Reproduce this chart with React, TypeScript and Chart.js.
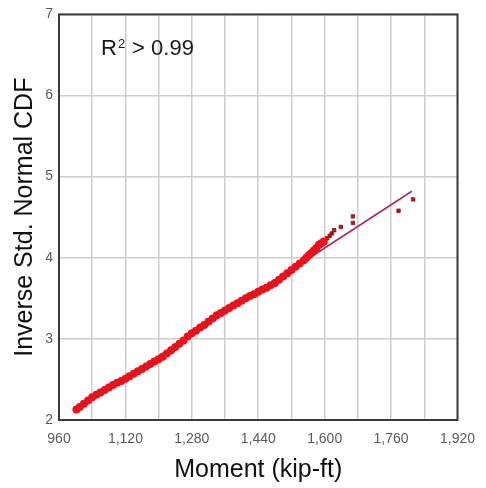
import React, { useEffect, useRef } from "react";
import { Chart, registerables } from "chart.js";

Chart.register(...registerables);

// Dense sample (moment in kip-ft, inverse std. normal CDF)
const momentX = [
  1002, 1010, 1020, 1030, 1040, 1050, 1060, 1070, 1080, 1090,
  1100, 1110, 1120, 1130, 1140, 1150, 1160, 1170, 1180, 1190,
  1200, 1210, 1220, 1230, 1240, 1250, 1260, 1270, 1280, 1290,
  1300, 1310, 1320, 1330, 1340, 1350, 1360, 1370, 1380, 1390,
  1400, 1410, 1420, 1430, 1440, 1450, 1460, 1470, 1480, 1490,
  1500, 1510, 1520, 1530, 1540, 1550, 1556, 1562, 1568, 1574,
  1580, 1586, 1592, 1598,
];
const cdfY = [
  2.13, 2.16, 2.2, 2.24, 2.28, 2.31, 2.34, 2.37, 2.4, 2.43,
  2.46, 2.48, 2.51, 2.54, 2.57, 2.6, 2.63, 2.66, 2.69, 2.72,
  2.75, 2.78, 2.82, 2.86, 2.9, 2.94, 2.98, 3.03, 3.07, 3.1,
  3.14, 3.17, 3.21, 3.25, 3.29, 3.32, 3.35, 3.38, 3.41, 3.44,
  3.47, 3.5, 3.53, 3.55, 3.58, 3.61, 3.63, 3.66, 3.69, 3.73,
  3.77, 3.81, 3.85, 3.89, 3.93, 3.97, 4.0, 4.03, 4.06, 4.09,
  4.12, 4.16, 4.18, 4.2,
];

// Sparse upper tail
const tailX = [1606, 1612, 1617, 1623, 1639, 1668, 1668, 1778, 1813];
const tailY = [4.24, 4.27, 4.3, 4.34, 4.38, 4.43, 4.51, 4.58, 4.72];

// Fitted line
const fitX = [1000, 1810];
const fitY = [2.12, 4.82];

const xMin = 960;
const xMax = 1920;
const xStep = 80;
const xLabelStep = 160;
const yMin = 2;
const yMax = 7;

const toPts = (xs: number[], ys: number[]) => xs.map((x, i) => ({ x, y: ys[i] }));

const frame = {
  id: "frame",
  afterDatasetsDraw(chart: any) {
    const { ctx, chartArea } = chart;
    ctx.save();
    ctx.strokeStyle = "#3a3a3a";
    ctx.lineWidth = 2;
    ctx.strokeRect(chartArea.left, chartArea.top, chartArea.right - chartArea.left, chartArea.bottom - chartArea.top);
    ctx.restore();
  },
  afterDraw(chart: any) {
    const { ctx } = chart;
    ctx.save();
    ctx.fillStyle = "#1a1a1a";
    ctx.textBaseline = "alphabetic";
    ctx.textAlign = "left";
    ctx.font = '22px "Liberation Sans", Arial, sans-serif';
    ctx.fillText("R", 101, 55);
    ctx.font = '13px "Liberation Sans", Arial, sans-serif';
    ctx.fillText("2", 118, 48);
    ctx.font = '22px "Liberation Sans", Arial, sans-serif';
    ctx.fillText(" > 0.99", 126, 55);
    ctx.restore();
  },
};

export default function App() {
  const ref = useRef<HTMLCanvasElement>(null);
  useEffect(() => {
    document.body.style.margin = "0";
    const chart = new Chart(ref.current!, {
      type: "scatter",
      data: {
        datasets: [
          {
            label: "Sample",
            data: toPts(momentX, cdfY),
            backgroundColor: "#e8121c",
            borderColor: "#e8121c",
            pointRadius: 4,
            pointBorderWidth: 0,
            order: 1,
          },
          {
            label: "Tail",
            data: toPts(tailX, tailY),
            backgroundColor: "#c8101c",
            borderColor: "#8a0a12",
            pointStyle: "rect",
            pointRadius: 2.4,
            pointBorderWidth: 0.8,
            order: 1,
          },
          {
            type: "line",
            label: "Fit",
            data: toPts(fitX, fitY),
            borderColor: "#a82a66",
            borderWidth: 1.6,
            pointRadius: 0,
            fill: false,
            order: 2,
          } as any,
        ],
      },
      options: {
        animation: false,
        responsive: false,
        layout: { padding: { top: 11, right: 19, left: 0, bottom: 0 } },
        plugins: { legend: { display: false }, tooltip: { enabled: false } },
        scales: {
          x: {
            type: "linear",
            min: xMin,
            max: xMax,
            afterFit: (s: any) => { s.height = 68; },
            grid: { color: "#cdcdcd", lineWidth: 1.5, drawTicks: false },
            border: { display: false },
            ticks: {
              stepSize: xStep,
              autoSkip: false,
              maxRotation: 0,
              padding: 11,
              color: "#5a5a5a",
              font: { size: 14, family: '"Liberation Sans", Arial, sans-serif' },
              callback: (v: any) => (Number(v) % xLabelStep === 0 ? Number(v).toLocaleString("en-US") : ""),
            },
            title: {
              display: true,
              text: "Moment (kip-ft)",
              color: "#111",
              font: { size: 25, family: '"Liberation Sans", Arial, sans-serif' },
              padding: { top: 0, bottom: 3 },
            },
          },
          y: {
            type: "linear",
            min: yMin,
            max: yMax,
            afterFit: (s: any) => { s.width = 59; },
            grid: { color: "#cdcdcd", lineWidth: 1.5, drawTicks: false },
            border: { display: false },
            ticks: {
              stepSize: 1,
              padding: 6,
              color: "#5a5a5a",
              font: { size: 14, family: '"Liberation Sans", Arial, sans-serif' },
            },
            title: {
              display: true,
              text: "Inverse Std. Normal CDF",
              color: "#111",
              font: { size: 25, family: '"Liberation Sans", Arial, sans-serif' },
              padding: { top: 10, bottom: 0 },
            },
          },
        },
      },
      plugins: [frame],
    });
    return () => chart.destroy();
  }, []);
  return (
    <div style={{ width: 486, height: 488 }}>
      <canvas ref={ref} width={486} height={488} style={{ width: 486, height: 488, display: "block" }} />
    </div>
  );
}
